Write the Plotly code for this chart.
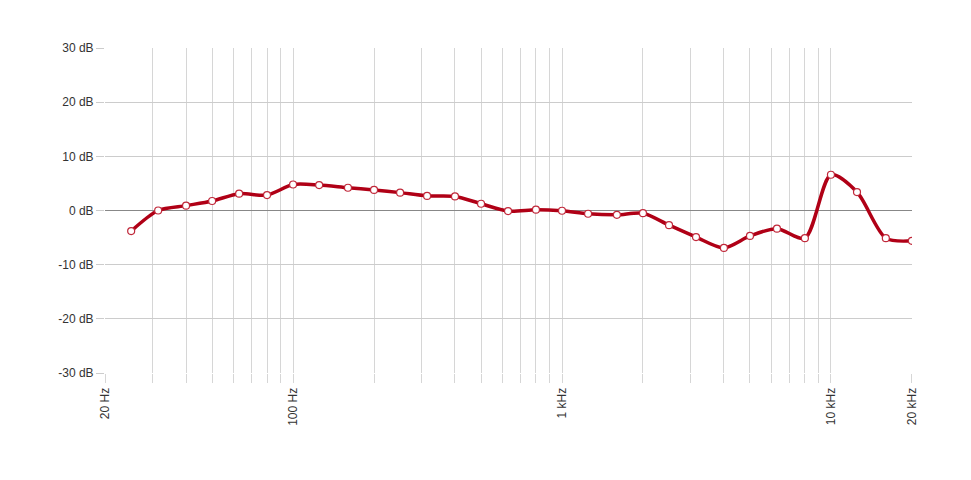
import math
import plotly.graph_objects as go

freqs = [25, 31.5, 40, 50, 63, 80, 100, 125, 160, 200, 250, 315, 400, 500, 630, 800,
         1000, 1250, 1600, 2000, 2500, 3150, 4000, 5000, 6300, 8000, 10000, 12500, 16000, 20000]
db = [-3.8, 0.0, 0.9, 1.75, 3.1, 2.85, 4.8, 4.7, 4.2, 3.8, 3.3, 2.7, 2.6, 1.25, -0.1, 0.15,
      -0.05, -0.6, -0.8, -0.5, -2.7, -4.9, -6.9, -4.7, -3.35, -5.1, 6.6, 3.4, -5.1, -5.6]

x_grid = [20, 30, 40, 50, 60, 70, 80, 90, 100, 200, 300, 400, 500, 600, 700, 800, 900,
          1000, 2000, 3000, 4000, 5000, 6000, 7000, 8000, 9000, 10000, 20000]
x_labels = {20: "20 Hz", 100: "100 Hz", 1000: "1 kHz", 10000: "10 kHz", 20000: "20 kHz"}
y_ticks = [-30, -20, -10, 0, 10, 20, 30]
y_labels = [f"{v} dB" for v in y_ticks]

fig = go.Figure()
fig.add_trace(go.Scatter(
    x=freqs, y=db, mode="lines+markers",
    line=dict(color="#b00016", width=3.5, shape="spline", smoothing=0.8),
    marker=dict(size=7, color="white", line=dict(color="#c0283a", width=1.2)),
    hoverinfo="x+y",
))

fig.update_layout(
    width=971, height=480,
    margin=dict(l=97, r=67, t=40, b=115),
    paper_bgcolor="white", plot_bgcolor="white",
    showlegend=False,
    font=dict(family="Liberation Sans, Arial, sans-serif", size=12, color="#333333"),
)
fig.update_xaxes(
    type="log",
    range=[math.log10(20) - 0.0004, math.log10(20000) + 0.0004],
    tickmode="array", tickvals=x_grid,
    ticktext=[x_labels.get(v, "") for v in x_grid],
    tickangle=-90,
    showgrid=True, gridcolor="#d6d6d6", gridwidth=1,
    ticks="outside", ticklen=9, tickcolor="#d6d6d6", tickwidth=1,
    showline=False, zeroline=False,
    tickfont=dict(size=12, color="#333333"),
)
fig.update_yaxes(
    range=[-30, 30],
    tickmode="array", tickvals=y_ticks, ticktext=y_labels,
    showgrid=True, gridcolor="#cccccc", gridwidth=1,
    ticks="outside", ticklen=8, tickcolor="#cccccc", tickwidth=1,
    zeroline=True, zerolinecolor="#888888", zerolinewidth=1,
    showline=False,
    tickfont=dict(size=12, color="#333333"),
)

fig.write_html("out.html")
